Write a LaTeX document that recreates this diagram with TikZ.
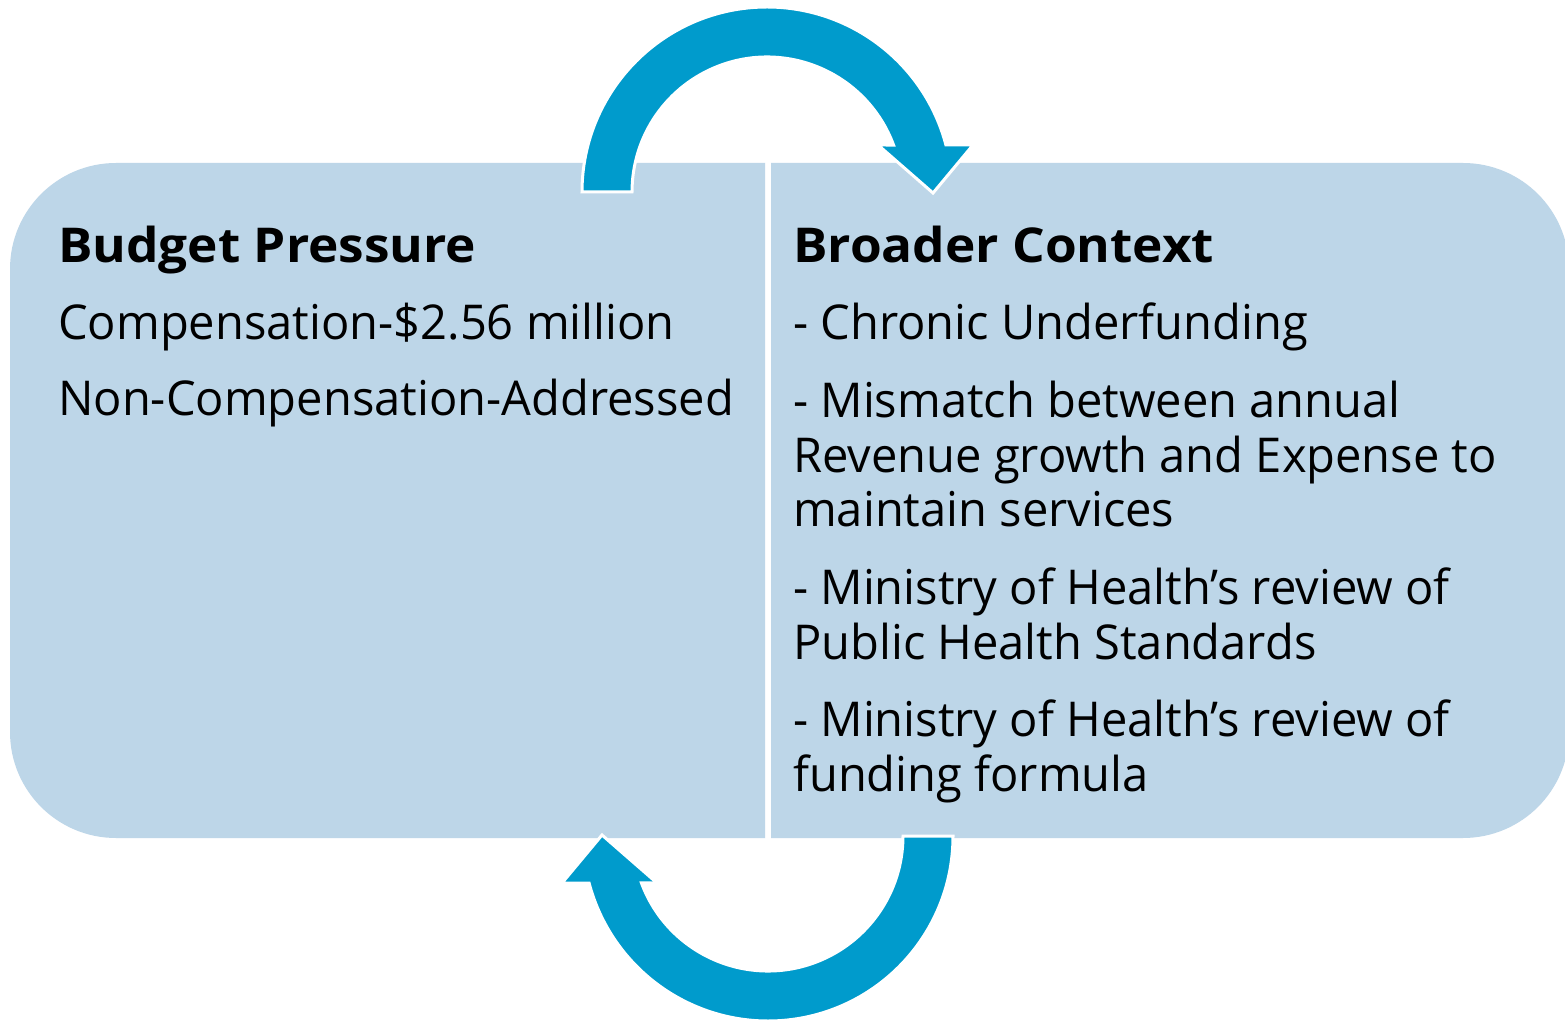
\documentclass[tikz,border=0pt]{standalone}
\usepackage{fontspec}
\setmainfont{Open Sans}[FakeStretch=0.98, BoldFeatures={FakeStretch=1.07}]
\usetikzlibrary{calc}
\definecolor{panel}{HTML}{BDD6E8}
\definecolor{arrowblue}{HTML}{009BCC}
\tikzset{
  panelbox/.style={fill=panel},
  cyclearrow/.style={fill=arrowblue, draw=white, line width=3pt, line join=miter},
  titletext/.style={anchor=base west, inner sep=0pt, font=\bfseries\fontsize{48}{55}\selectfont},
  bodytext/.style={anchor=base west, inner sep=0pt, font=\fontsize{48}{55}\selectfont},
}
\begin{document}
\begin{tikzpicture}[x=1pt,y=1pt]
\clip (0,0) rectangle (1565,1021);
\fill[white] (0,0) rectangle (1565,1021);
% panels
\fill[panelbox] (765,183) -- (765,858) -- (116,858)
  arc[start angle=90,end angle=180,radius=106] -- (10,289)
  arc[start angle=180,end angle=270,radius=106] -- cycle;
\fill[panelbox] (771,183) -- (771,858) -- (1463,858)
  arc[start angle=90,end angle=0,radius=106] -- (1569,289)
  arc[start angle=0,end angle=-90,radius=106] -- cycle;
% top arrow
\coordinate (tc) at (767,829);
\path[cyclearrow] (582,829) arc[start angle=180,end angle=14.72,radius=185]
  -- (973,876) -- (933,828) -- (878,876)
  -- ($(tc)+(20.37:135)$) arc[start angle=20.37,end angle=180,radius=135] -- cycle;
% bottom arrow (top arrow turned half round)
\begin{scope}[rotate around={180:(767.5,507)}]
\coordinate (bc) at (767,829);
\path[cyclearrow] (582,829) arc[start angle=180,end angle=14.72,radius=185]
  -- (973,876) -- (933,828) -- (878,876)
  -- ($(bc)+(20.37:135)$) arc[start angle=20.37,end angle=180,radius=135] -- cycle;
\end{scope}
% left text
\node[titletext] (bp) at (58,758) {Budget Pressure};
\node[bodytext] (comp) at (58,681) {Compensation-\$2.56 million};
\node[bodytext] (ncomp) at (58,605) {Non-Compensation-Addressed};
% right text
\node[titletext] (bc1) at (793,758) {Broader Context};
\node[bodytext] (r1) at (793,681) {- Chronic Underfunding};
\node[bodytext] (r2) at (793,603) {- Mismatch between annual};
\node[bodytext] (r3) at (793,548) {Revenue growth and Expense to};
\node[bodytext] (r4) at (793,494) {maintain services};
\node[bodytext] (r5) at (793,417) {- Ministry of Health’s review of};
\node[bodytext] (r6) at (793,362) {Public Health Standards};
\node[bodytext] (r7) at (793,285) {- Ministry of Health’s review of};
\node[bodytext] (r8) at (793,230) {funding formula};
\end{tikzpicture}
\end{document}
